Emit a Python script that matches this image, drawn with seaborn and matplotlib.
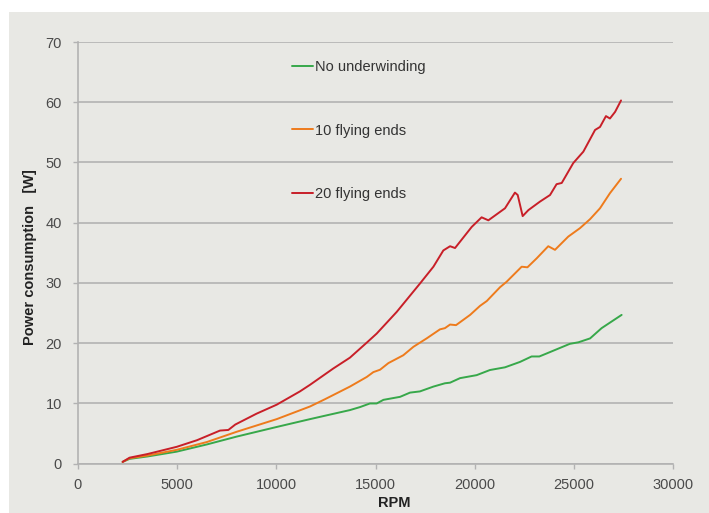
import matplotlib
matplotlib.use("Agg")
import matplotlib.pyplot as plt
from matplotlib.patches import Rectangle
import pandas as pd
import seaborn as sns

# Measured power draw per configuration
rpm_none = [2250, 2600, 3500, 4975, 6500, 8000, 10020, 11700, 12500, 13710, 14220,
            14720, 15060, 15400, 16240, 16740, 17240, 17920, 18500, 18760, 19260,
            20100, 20770, 21530, 22290, 22870, 23260, 23630, 24800, 25230, 25820,
            26400, 27410]
watt_none = [0.3, 0.8, 1.2, 2.0, 3.2, 4.5, 6.1, 7.4, 8.0, 8.9, 9.4,
             10.0, 10.0, 10.6, 11.1, 11.8, 12.0, 12.8, 13.35, 13.45, 14.2,
             14.7, 15.55, 16.0, 16.9, 17.8, 17.8, 18.3, 19.9, 20.15, 20.8,
             22.5, 24.7]

rpm_10 = [2250, 2600, 3500, 4975, 6500, 8000, 10020, 11700, 12450, 13710, 14560,
          14890, 15230, 15650, 16400, 16910, 17580, 18250, 18500, 18760, 19060,
          19770, 20270, 20610, 21280, 21610, 22370, 22660, 23130, 23710, 24050,
          24720, 25310, 25820, 26320, 26820, 27380]
watt_10 = [0.3, 0.9, 1.35, 2.3, 3.6, 5.3, 7.4, 9.5, 10.7, 12.8, 14.4,
           15.2, 15.6, 16.7, 18.0, 19.4, 20.8, 22.3, 22.5, 23.1, 23.0,
           24.7, 26.2, 27.0, 29.3, 30.2, 32.7, 32.6, 34.1, 36.1, 35.5,
           37.7, 39.1, 40.6, 42.4, 44.9, 47.3]

rpm_20 = [2250, 2600, 3500, 4975, 6000, 7160, 7580, 7930, 9000, 10020, 11190,
          11700, 12870, 13710, 14560, 15060, 16070, 17240, 17920, 18420, 18760,
          19010, 19850, 20350, 20690, 21530, 22030, 22170, 22420, 22710, 23290,
          23800, 24130, 24390, 24970, 25480, 26070, 26320, 26620, 26820, 27080,
          27380]
watt_20 = [0.3, 1.0, 1.6, 2.8, 3.9, 5.5, 5.6, 6.5, 8.3, 9.8, 12.0,
           13.1, 15.8, 17.6, 20.1, 21.6, 25.2, 29.9, 32.7, 35.4, 36.1,
           35.8, 39.3, 40.9, 40.4, 42.4, 45.0, 44.6, 41.1, 42.1, 43.5,
           44.6, 46.4, 46.6, 49.9, 51.8, 55.4, 55.9, 57.7, 57.3, 58.4,
           60.3]

series_names = ["No underwinding", "10 flying ends", "20 flying ends"]
series_colors = ["#37a84a", "#ee7b1c", "#c81f28"]

frames = []
for name, xs, ys in zip(series_names,
                        [rpm_none, rpm_10, rpm_20],
                        [watt_none, watt_10, watt_20]):
    frames.append(pd.DataFrame({"RPM": xs, "Power": ys, "Series": name}))
df = pd.concat(frames, ignore_index=True)

sns.set_theme(style="white")
plt.rcParams["font.family"] = ["Liberation Sans", "DejaVu Sans"]

BG = "#e8e8e4"
GRID = "#b2b2b2"

fig = plt.figure(figsize=(7.09, 5.13), dpi=100)
fig.patch.set_facecolor("white")
fig.patches.append(Rectangle((9 / 709, 0), 700 / 709, 501 / 513,
                             transform=fig.transFigure, facecolor=BG,
                             edgecolor="none", zorder=-10))

ax = fig.add_axes([78 / 709, 49.3 / 513, 595 / 709, 421.7 / 513])
ax.set_facecolor(BG)

sns.lineplot(data=df, x="RPM", y="Power", hue="Series", hue_order=series_names,
             palette=series_colors, linewidth=1.4, sort=True, estimator=None,
             ax=ax, zorder=3)

ax.set_xlim(0, 30000)
ax.set_ylim(0, 70)
ax.set_xticks(range(0, 30001, 5000))
ax.set_yticks(range(0, 71, 10))
ax.yaxis.grid(True, color=GRID, linewidth=1.2)
ax.xaxis.grid(False)
ax.set_axisbelow(True)

for side in ["top", "right"]:
    ax.spines[side].set_visible(False)
for side in ["left", "bottom"]:
    ax.spines[side].set_color(GRID)
    ax.spines[side].set_linewidth(1.2)

ax.tick_params(axis="both", which="major", length=3.5, width=1.0, color=GRID,
               labelsize=10.5, labelcolor="#4a4a4a", bottom=True, left=True)
ax.tick_params(axis="y", pad=8)
ax.tick_params(axis="x", pad=7)

ax.set_xlabel("RPM", fontsize=10.5, fontweight="bold", color="#222222",
              va="center")
ax.xaxis.set_label_coords(0.531, -0.093)
ax.set_ylabel("Power consumption   [W]", fontsize=10.5, fontweight="bold",
              color="#222222", va="center")
ax.yaxis.set_label_coords(-0.0807, 0.49)

handles, labels = ax.get_legend_handles_labels()
leg = ax.legend(handles, labels, loc="upper left",
                bbox_to_anchor=(0.3597, 0.958), frameon=False,
                fontsize=10.5, handlelength=1.45, handletextpad=0.15,
                labelspacing=3.42, borderpad=0, borderaxespad=0)
for t in leg.get_texts():
    t.set_color("#333333")
for h in leg.get_lines():
    h.set_linewidth(1.4)

fig.savefig("out.png", dpi=100, facecolor=fig.get_facecolor())
